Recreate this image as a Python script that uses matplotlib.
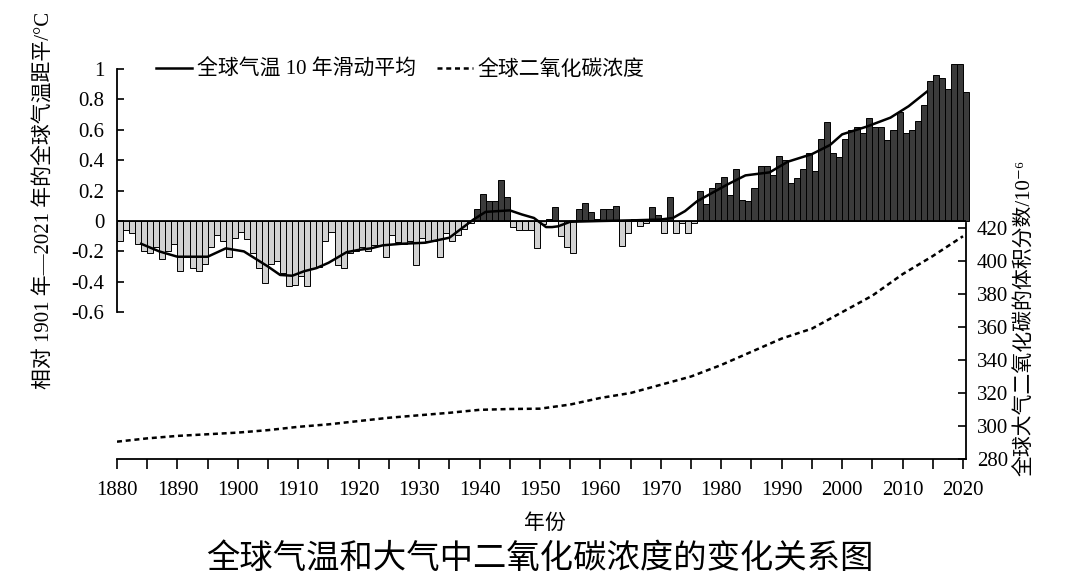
import matplotlib
matplotlib.use("Agg")
import matplotlib.pyplot as plt
from matplotlib.lines import Line2D
from matplotlib.ticker import MultipleLocator

plt.rcParams['font.family'] = ['Liberation Serif', 'Noto Sans CJK SC', 'DejaVu Sans']

# ---------------- data ----------------
bar_years = list(range(1881, 2022))
temp_anom = [
    -0.13, -0.06, -0.08, -0.15, -0.20, -0.21, -0.17, -0.25, -0.20, -0.15,   # 1881-1890
    -0.33, -0.24, -0.31, -0.33, -0.28, -0.17, -0.09, -0.13, -0.24, -0.11,   # 1891-1900
    -0.07, -0.12, -0.21, -0.31, -0.41, -0.28, -0.26, -0.34, -0.43, -0.42,   # 1901-1910
    -0.36, -0.43, -0.31, -0.30, -0.13, -0.07, -0.29, -0.31, -0.21, -0.20,   # 1911-1920
    -0.17, -0.20, -0.16, -0.16, -0.24, -0.09, -0.14, -0.15, -0.13, -0.29,   # 1921-1930
    -0.11, -0.13, -0.13, -0.24, -0.08, -0.13, -0.09, -0.05, -0.015, 0.08,   # 1931-1940
    0.18, 0.13, 0.13, 0.27, 0.16, -0.04, -0.06, -0.06, -0.06, -0.18,        # 1941-1950
    -0.02, 0.01, 0.09, -0.10, -0.17, -0.21, 0.08, 0.12, 0.06, 0.01,         # 1951-1960
    0.08, 0.08, 0.10, -0.165, -0.08, 0.01, -0.03, -0.01, 0.09, 0.04,        # 1961-1970
    -0.08, 0.16, -0.08, -0.01, -0.08, -0.01, 0.20, 0.11, 0.22, 0.25,        # 1971-1980
    0.29, 0.17, 0.34, 0.14, 0.13, 0.22, 0.36, 0.36, 0.30, 0.43,             # 1981-1990
    0.40, 0.25, 0.28, 0.34, 0.45, 0.33, 0.54, 0.65, 0.45, 0.42,             # 1991-2000
    0.54, 0.60, 0.62, 0.58, 0.68, 0.62, 0.62, 0.53, 0.60, 0.72,             # 2001-2010
    0.58, 0.60, 0.66, 0.76, 0.92, 0.96, 0.94, 0.87, 1.03, 1.03,             # 2011-2020
    0.85,                                                                   # 2021
]

ma_years = [1884, 1887, 1890, 1895, 1898, 1901, 1903, 1905, 1907, 1909, 1911,
            1913, 1915, 1918, 1920, 1922, 1924, 1927, 1931, 1935, 1938, 1939,
            1941, 1945, 1947, 1949, 1950, 1951, 1952, 1953, 1955, 1960, 1966,
            1970, 1972, 1974, 1976, 1981, 1984, 1988, 1991, 1995, 1998, 2000,
            2004, 2008, 2011, 2014]
ma_values = [-0.15, -0.20, -0.235, -0.235, -0.18, -0.20, -0.25, -0.30, -0.355,
             -0.36, -0.33, -0.31, -0.275, -0.205, -0.19, -0.18, -0.16, -0.15,
             -0.143, -0.11, -0.02, 0.01, 0.06, 0.07, 0.043, 0.02, -0.01, -0.04,
             -0.04, -0.035, -0.005, 0.0, 0.005, 0.01, 0.02, 0.065, 0.13, 0.24,
             0.30, 0.32, 0.39, 0.44, 0.50, 0.57, 0.62, 0.68, 0.755, 0.85]

co2_years = [1880, 1885, 1890, 1895, 1900, 1905, 1910, 1915, 1920, 1925, 1930,
             1935, 1940, 1945, 1950, 1955, 1960, 1965, 1970, 1975, 1980, 1985,
             1990, 1995, 2000, 2005, 2010, 2015, 2020]
co2_values = [290.5, 292.5, 294.0, 295.0, 296.0, 297.5, 299.5, 301.0, 303.0,
              305.0, 306.5, 308.0, 309.8, 310.3, 310.5, 313.0, 317.0, 320.0,
              325.0, 330.0, 337.0, 345.0, 353.0, 359.0, 369.0, 379.0, 392.0,
              403.0, 415.0]

temp_ticks = [1.0, 0.8, 0.6, 0.4, 0.2, 0.0, -0.2, -0.4, -0.6]
temp_tick_labels = ['1', '0.8', '0.6', '0.4', '0.2', '0', '-0.2', '-0.4', '-0.6']
co2_ticks = [280, 300, 320, 340, 360, 380, 400, 420]
x_ticks = [1880, 1890, 1900, 1910, 1920, 1930, 1940, 1950, 1960, 1970,
           1980, 1990, 2000, 2010, 2020]

label_ma = '全球气温 10 年滑动平均'
label_co2 = '全球二氧化碳浓度'
ylabel_left = '相对 1901 年—2021 年的全球气温距平/°C'
ylabel_right = '全球大气二氧化碳的体积分数/10⁻⁶'
xlabel = '年份'
title = '全球气温和大气中二氧化碳浓度的变化关系图'

# ---------------- figure ----------------
W, H = 1069, 579
fig = plt.figure(figsize=(W / 100, H / 100), dpi=100)
fig.patch.set_facecolor('white')

x_left, x_right = 117, 966
y_bottom, y_top = 459, 60
ax = fig.add_axes([x_left / W, 1 - y_bottom / H,
                   (x_right - x_left) / W, (y_bottom - y_top) / H])
ax.patch.set_alpha(0)

# temperature axis: 0 at y=221 px, 152 px per degree
zero_px, px_per_deg = 221, 152
ax.set_ylim((zero_px - y_bottom) / px_per_deg, (zero_px - y_top) / px_per_deg)
ax.set_xlim(1880, 2020.5)

colors = ['#3b3b3b' if v >= 0 else '#d2d2d2' for v in temp_anom]
ax.bar([y - 0.5 for y in bar_years], temp_anom, width=1.0, color=colors,
       edgecolor='black', linewidth=0.7, clip_on=False, zorder=2)
ax.axhline(0, color='black', lw=1.3, zorder=3)
ax.plot(ma_years, ma_values, color='black', lw=1.8, zorder=4)

for s in ['top', 'right']:
    ax.spines[s].set_visible(False)
ax.spines['left'].set_bounds(-0.6, 1.0)
ax.spines['left'].set_linewidth(1.3)
ax.spines['bottom'].set_linewidth(1.3)

ax.set_yticks(temp_ticks)
ax.set_yticklabels(temp_tick_labels)
ax.tick_params(axis='y', direction='in', length=5, width=1.2, pad=9,
               labelsize=15)
ax.set_xticks(x_ticks)
ax.xaxis.set_minor_locator(MultipleLocator(5))
ax.tick_params(axis='x', which='both', direction='out', length=7, width=1.2,
               pad=9, labelsize=15)

# CO2 axis
px_per_ppm = 1.65
ax2 = ax.twinx()
ax2.patch.set_alpha(0)
ax2.set_ylim(280, 280 + (y_bottom - y_top) / px_per_ppm)
ax2.plot(co2_years, co2_values, color='black', lw=1.8,
         linestyle=(0, (2.0, 1.5)), zorder=4)
for s in ['top', 'left', 'bottom']:
    ax2.spines[s].set_visible(False)
ax2.spines['right'].set_bounds(280, 423)
ax2.spines['right'].set_linewidth(1.3)
ax2.set_yticks(co2_ticks)
ax2.tick_params(axis='y', direction='in', length=6, width=1.2, pad=8,
                labelsize=15)

# legend
handles = [Line2D([], [], color='black', lw=1.8),
           Line2D([], [], color='black', lw=1.8, linestyle=(0, (2.0, 1.5)))]
leg = ax2.legend(handles, [label_ma, label_co2], ncol=2, frameon=False,
                 loc='center left', bbox_to_anchor=(156 / W, 1 - 70 / H),
                 bbox_transform=fig.transFigure, borderaxespad=0, borderpad=0,
                 handlelength=1.75, handletextpad=0.2, columnspacing=1.0,
                 fontsize=15)

# axis labels and title
fig.text(45 / W, 1 - 200 / H, ylabel_left, rotation=90, ha='center',
         va='center', fontsize=15)
fig.text(1025 / W, 1 - 318 / H, ylabel_right, rotation=90, ha='center',
         va='center', fontsize=15)
fig.text(545 / W, 1 - 524 / H, xlabel, ha='center', va='center', fontsize=15)
fig.text(540 / W, 1 - 559 / H, title, ha='center', va='center', fontsize=24)

fig.savefig('out.png', dpi=100, facecolor='white')
